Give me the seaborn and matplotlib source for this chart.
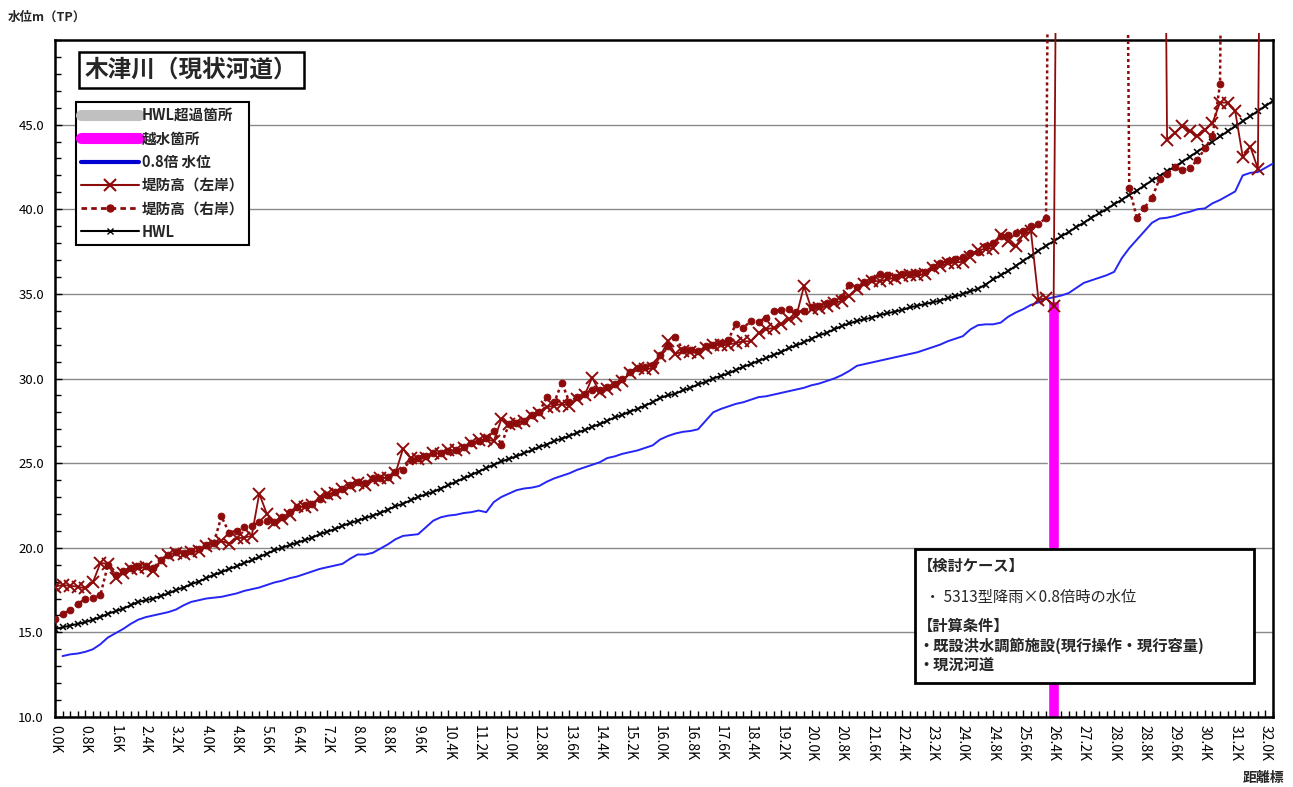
import matplotlib
matplotlib.use('Agg')
import matplotlib.pyplot as plt
import seaborn as sns
from matplotlib.lines import Line2D
from matplotlib.patches import Rectangle
from matplotlib.ticker import FixedLocator, MultipleLocator
from matplotlib.transforms import Bbox, TransformedBbox

# 距離標 0.0K - 32.2K (0.2k pitch)
kilo = [round(0.2 * i, 1) for i in range(162)]
kilo_labels = [f'{k:.1f}K' for k in kilo[::4]]

# HWL
hwl = [15.2, 15.3, 15.4, 15.5, 15.6, 15.75, 15.9, 16.1, 16.25, 16.4,
       16.6, 16.8, 16.9, 17.0, 17.15, 17.3, 17.5, 17.65, 17.85, 18.0,
       18.2, 18.4, 18.55, 18.75, 18.9, 19.1, 19.25, 19.45, 19.65, 19.85,
       20.0, 20.15, 20.3, 20.45, 20.6, 20.8, 20.95, 21.1, 21.3, 21.45,
       21.6, 21.75, 21.9, 22.05, 22.25, 22.45, 22.6, 22.8, 23.0, 23.15,
       23.3, 23.5, 23.7, 23.9, 24.1, 24.3, 24.5, 24.7, 24.9, 25.1,
       25.25, 25.4, 25.6, 25.75, 25.95, 26.1, 26.3, 26.45, 26.6, 26.8,
       26.95, 27.15, 27.3, 27.5, 27.7, 27.85, 28.05, 28.2, 28.4, 28.6,
       28.85, 29.0, 29.1, 29.3, 29.45, 29.65, 29.8, 30.0, 30.15,
       30.3, 30.5, 30.7, 30.85, 31.05, 31.2, 31.4, 31.55, 31.8, 31.95,
       32.15, 32.35, 32.55, 32.7, 32.9, 33.1, 33.25, 33.4, 33.5, 33.6,
       33.75, 33.85, 33.95, 34.05, 34.2, 34.3, 34.4, 34.5, 34.6, 34.75,
       34.85, 35.0, 35.15, 35.3, 35.55, 35.85, 36.1, 36.35, 36.65, 36.95,
       37.25, 37.55, 37.85, 38.1, 38.4, 38.65, 38.95, 39.2, 39.5, 39.75,
       40.0, 40.3, 40.55, 40.85, 41.1, 41.4, 41.7, 41.95, 42.25, 42.5,
       42.8, 43.1, 43.4, 43.7, 44.0, 44.3, 44.6, 44.9, 45.2, 45.5,
       45.8, 46.1, 46.4]

# 0.8倍 水位
level_08 = [None, 13.6, 13.7, 13.75, 13.85, 14.0, 14.3, 14.7, 14.95, 15.2,
            15.5, 15.75, 15.9, 16.0, 16.1, 16.2, 16.35, 16.6, 16.8, 16.9,
            17.0, 17.05, 17.1, 17.2, 17.3, 17.45, 17.55, 17.65, 17.8, 17.95,
            18.05, 18.2, 18.3, 18.45, 18.6, 18.75, 18.85, 18.95, 19.05, 19.35,
            19.6, 19.6, 19.7, 19.95, 20.2, 20.5, 20.7, 20.75, 20.8, 21.2,
            21.6, 21.8, 21.9, 21.95, 22.05, 22.1, 22.2, 22.1, 22.7, 23.0,
            23.2, 23.4, 23.5, 23.55, 23.65, 23.9, 24.1, 24.25, 24.4, 24.6,
            24.75, 24.9, 25.05, 25.3, 25.4, 25.55, 25.65, 25.75, 25.9, 26.05,
            26.4, 26.6, 26.75, 26.85, 26.9, 27.0, 27.5, 28.0, 28.2,
            28.35, 28.5, 28.6, 28.75, 28.9, 28.95, 29.05, 29.15, 29.25, 29.35,
            29.45, 29.6, 29.7, 29.85, 30.0, 30.2, 30.45, 30.75, 30.85, 30.95,
            31.05, 31.15, 31.25, 31.35, 31.45, 31.55, 31.7, 31.85, 32.0, 32.2,
            32.35, 32.5, 32.9, 33.15, 33.2, 33.2, 33.3, 33.65, 33.9, 34.1,
            34.35, 34.5, 34.7, 34.8, 34.9, 35.05, 35.35, 35.65, 35.8, 35.95,
            36.1, 36.3, 37.1, 37.7, 38.2, 38.7, 39.2, 39.45, 39.5, 39.6,
            39.75, 39.85, 40.0, 40.05, 40.35, 40.55, 40.8, 41.05, 42.0, 42.15,
            42.2, 42.45, 42.7]

# 堤防高（左岸） 99.0 = 堤防なし
levee_left = [17.7, 17.8, 17.75, 17.7, 17.6, 17.95, 19.1, 19.05, 18.2, 18.5,
              18.75, 18.8, 18.85, 18.65, 19.2, 19.6, 19.7, 19.65, 19.75, 19.8,
              20.1, 20.25, 20.4, 20.25, 20.55, 20.6, 20.7, 23.2, 22.0, 21.45,
              21.7, 21.95, 22.45, 22.4, 22.55, 23.0, 23.15, 23.25, 23.45, 23.65,
              23.85, 23.7, 24.0, 24.1, 24.15, 24.4, 25.85, 25.3, 25.25, 25.3,
              25.6, 25.55, 25.75, 25.75, 25.9, 26.2, 26.35, 26.4, 26.3, 27.6,
              27.3, 27.4, 27.5, 27.8, 27.95, 28.3, 28.4, 28.5, 28.4, 28.8,
              29.0, 30.05, 29.2, 29.4, 29.6, 29.85, 30.3, 30.6, 30.55, 30.6,
              31.3, 32.2, 31.45, 31.6, 31.55, 31.5, 31.8, 32.0, 31.95, 32.0,
              32.1, 32.2, 32.2, 32.7, 32.9, 33.0, 33.2, 33.5, 33.7, 35.45,
              34.1, 34.15, 34.3, 34.45, 34.6, 34.9, 35.3, 35.6, 35.75, 35.75,
              35.85, 35.95, 36.05, 36.1, 36.1, 36.15, 36.5, 36.65, 36.8, 36.85,
              36.9, 37.2, 37.6, 37.65, 37.7, 38.5, 38.1, 37.8, 38.5, 38.7,
              34.65, 34.75, 34.3, 99.0, 99.0, 99.0, 99.0, 99.0, 99.0, 99.0,
              99.0, 99.0, 99.0, 99.0, 99.0, 99.0, 99.0, 44.1, 44.5, 44.9,
              44.6, 44.35, 44.7, 45.1, 46.3, 46.3, 45.8, 43.1, 43.7, 42.4,
              99.0, 99.0]

# 堤防高（右岸）
levee_right = [15.8, 16.1, 16.3, 16.7, 16.95, 17.05, 17.2, 19.0, 18.4, 18.6,
               18.8, 18.9, 18.9, 18.8, 19.3, 19.6, 19.75, 19.7, 19.8, 19.9,
               20.15, 20.3, 21.85, 20.9, 21.0, 21.2, 21.3, 21.5, 21.6, 21.5,
               21.8, 22.1, 22.4, 22.5, 22.6, 22.9, 23.1, 23.3, 23.45, 23.7,
               23.9, 23.8, 24.1, 24.15, 24.2, 24.5, 24.6, 25.2, 25.3, 25.4,
               25.6, 25.6, 25.7, 25.8, 25.95, 26.2, 26.3, 26.5, 26.9, 26.1,
               27.3, 27.4, 27.5, 27.85, 28.0, 28.9, 28.6, 29.75, 28.6, 28.9,
               29.1, 29.3, 29.3, 29.5, 29.7, 29.95, 30.4, 30.6, 30.7, 30.8,
               31.4, 31.9, 32.45, 31.7, 31.7, 31.6, 31.9, 32.0, 32.1, 32.3,
               33.2, 33.0, 33.4, 33.35, 33.6, 34.0, 34.05, 34.1, 33.9, 34.0,
               34.2, 34.3, 34.45, 34.6, 34.8, 35.55, 35.4, 35.7, 35.85, 36.2,
               36.1, 36.0, 36.15, 36.2, 36.25, 36.3, 36.6, 36.8, 36.95, 37.05,
               37.2, 37.4, 37.5, 37.8, 38.0, 38.4, 38.5, 38.6, 38.7, 39.0,
               39.1, 39.5, 99.0, 99.0, 99.0, 99.0, 99.0, 99.0, 99.0, 99.0,
               99.0, 99.0, 41.25, 39.5, 40.1, 40.65, 41.8, 42.1, 42.5, 42.3,
               42.45, 42.9, 43.6, 44.3, 47.4, 99.0, 99.0, 99.0, 99.0, 99.0,
               99.0, 99.0]

# 越水箇所 / HWL超過箇所
overflow_km = [26.4]
overflow_top = [34.6]
hwl_over_km = []
hwl_over_top = []

y_ticks = [10, 15, 20, 25, 30, 35, 40, 45]

sns.set_theme(style='white')
plt.rcParams['font.family'] = ['Noto Sans CJK JP', 'DejaVu Sans']

DARKRED = '#8e0b0b'
BLUE = '#2525f5'

fig = plt.figure(figsize=(12.93, 7.87), dpi=100)
fig.patch.set_facecolor('white')
ax = fig.add_axes([55 / 1293, 1 - 717 / 787, (1273 - 55) / 1293, (717 - 40) / 787])

ax.bar(hwl_over_km, hwl_over_top, width=0.28, color='#c0c0c0', zorder=1.5)
ax.bar(overflow_km, overflow_top, width=0.28, color='#ff00ff', zorder=1.5)

sns.lineplot(x=kilo, y=level_08, ax=ax, color=BLUE, linewidth=1.4, zorder=3)
sns.lineplot(x=kilo, y=hwl, ax=ax, color='black', linewidth=1.4, marker='x',
             markersize=4.5, markeredgewidth=1.1, markeredgecolor='black', zorder=4)
sns.lineplot(x=kilo, y=levee_right, ax=ax, color=DARKRED, linewidth=1.8,
             linestyle=(0, (1.2, 1.2)), marker='o', markersize=4.8,
             markeredgecolor=DARKRED, markerfacecolor=DARKRED, zorder=5)
right_line = ax.lines[-1]
sns.lineplot(x=kilo, y=levee_left, ax=ax, color=DARKRED, linewidth=1.3,
             marker='x', markersize=8, markeredgewidth=1.4,
             markeredgecolor=DARKRED, zorder=6)
left_line = ax.lines[-1]

# spikes run slightly over the frame top
clip = TransformedBbox(Bbox([[0, 0], [1, 1.011]]), ax.transAxes)
for ln in (left_line, right_line):
    ln.set_clip_box(clip)

ax.set_xlim(0, kilo[-1])
ax.set_ylim(10, 50)
ax.xaxis.set_major_locator(FixedLocator(kilo[::4]))
ax.set_xticklabels(kilo_labels, rotation=-90, fontsize=10)
ax.xaxis.set_minor_locator(MultipleLocator(0.2))
ax.yaxis.set_major_locator(FixedLocator(y_ticks))
ax.set_yticklabels([f'{v:.1f}' for v in y_ticks], fontsize=9.5)
ax.yaxis.set_minor_locator(MultipleLocator(1))
ax.tick_params(axis='both', which='both', direction='in', bottom=True, left=True,
               top=False, right=False, width=1, colors='black')
ax.tick_params(axis='both', which='major', length=5)
ax.tick_params(axis='both', which='minor', length=4)
ax.tick_params(axis='y', pad=8)
ax.tick_params(axis='x', pad=6)
ax.yaxis.grid(True, color='#8a8a8a', linewidth=1)
ax.xaxis.grid(False)
ax.set_axisbelow(True)
ax.set_xlabel('')
ax.set_ylabel('')
for sp in ax.spines.values():
    sp.set_color('black')
    sp.set_linewidth(1.8)

# legend
handles = [
    Line2D([], [], color='#c0c0c0', linewidth=8),
    Line2D([], [], color='#ff00ff', linewidth=8),
    Line2D([], [], color='#0000d0', linewidth=3),
    Line2D([], [], color=DARKRED, linewidth=1.5, marker='x', markersize=8, markeredgewidth=1.5),
    Line2D([], [], color=DARKRED, linewidth=2, linestyle=(0, (2, 1.5)), marker='o', markersize=5),
    Line2D([], [], color='black', linewidth=1.5, marker='x', markersize=4),
]
labels = ['HWL超過箇所', '越水箇所', '0.8倍 水位', '堤防高（左岸）', '堤防高（右岸）', 'HWL']
leg = ax.legend(handles, labels, loc='upper left', bbox_to_anchor=(76 / 1293, 1 - 102 / 787),
                bbox_transform=fig.transFigure, borderaxespad=0, fancybox=False,
                framealpha=1, edgecolor='black', handlelength=4.0, handletextpad=0.15,
                labelspacing=0.5, borderpad=0.35, prop={'size': 10.5, 'weight': 'bold'})
leg.get_frame().set_linewidth(1.5)
leg.set_zorder(20)

# title
fig.text(85 / 1293, 1 - 70 / 787, '木津川（現状河道）', fontsize=17, weight='bold', va='center',
         bbox=dict(boxstyle='square,pad=0.25', fc='white', ec='black', lw=1.8))

fig.text(8 / 1293, 1 - 17 / 787, '水位m（TP）', fontsize=9, weight='bold', va='center')
fig.text(1284 / 1293, 1 - 778 / 787, '距離標', fontsize=10, weight='bold', ha='right', va='center')

# case box
box = Rectangle((915 / 1293, 1 - 683 / 787), (1254 - 915) / 1293, (683 - 549) / 787,
                transform=fig.transFigure, facecolor='white', edgecolor='black', linewidth=2, zorder=30)
fig.add_artist(box)
notes = [
    (918, 566, '【検討ケース】', 'bold'),
    (925, 597, '・ 5313型降雨×0.8倍時の水位', 'normal'),
    (918, 626, '【計算条件】', 'bold'),
    (918, 646, '・既設洪水調節施設(現行操作・現行容量)', 'bold'),
    (918, 666, '・現況河道', 'bold'),
]
for px, py, txt, w in notes:
    fig.text(px / 1293, 1 - py / 787, txt, fontsize=11, weight=w, va='center', zorder=31)

fig.savefig('out.png', dpi=100)
